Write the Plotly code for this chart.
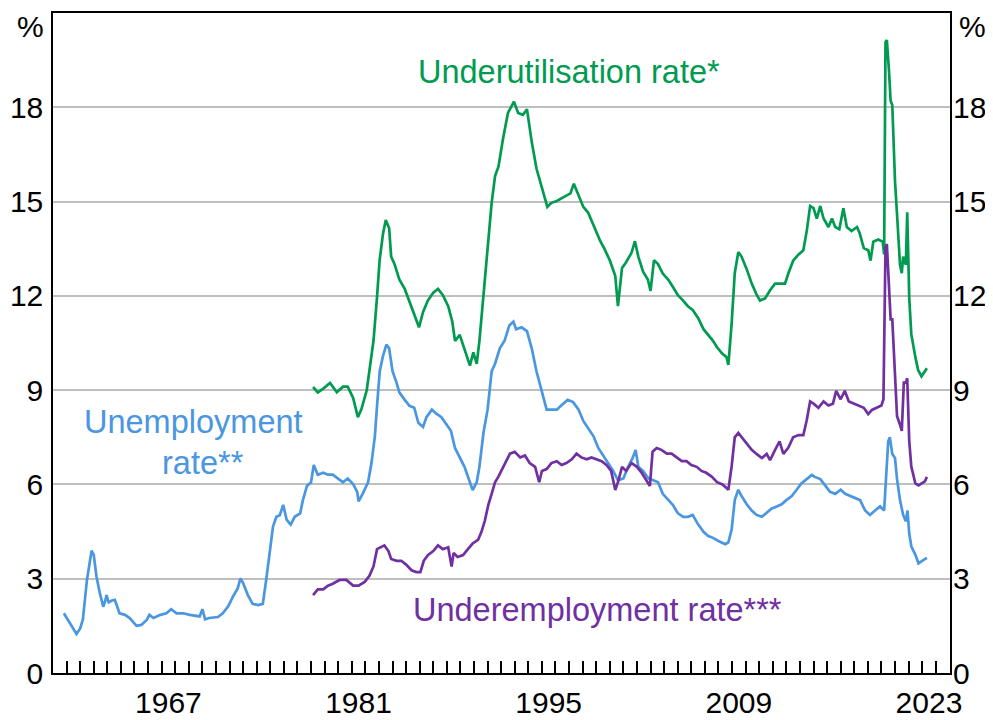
"""Labour market slack: unemployment, underemployment and underutilisation rates."""

import plotly.graph_objects as go

# ── Theme ───────────────────────────────────────────────────────────────────
_FONT = "Liberation Sans, Arial, sans-serif"
_GREEN = "#009B50"
_BLUE = "#4A96E0"
_PURPLE = "#7030A0"
_GRID = "#BFBFBF"
_INK = "#000000"

# ── Data (decimal years, per cent) ──────────────────────────────────────────
unemp_year = [
    1959.8, 1960.73, 1961.0, 1961.2, 1961.5, 1961.84, 1962.0, 1962.2, 1962.45, 1962.7,
    1962.85, 1962.94, 1963.1, 1963.3, 1963.55, 1963.9, 1964.3, 1964.65, 1965.15, 1965.5,
    1965.9, 1966.1, 1966.4, 1966.9, 1967.35, 1967.7, 1968.1, 1968.6, 1969.07, 1969.8,
    1970.0, 1970.2, 1970.5, 1971.15, 1971.5, 1971.9, 1972.25, 1972.6, 1972.8, 1973.0,
    1973.35, 1973.7, 1974.1, 1974.45, 1974.7, 1974.95, 1975.2, 1975.45, 1975.7, 1975.95,
    1976.2, 1976.5, 1976.8, 1977.2, 1977.4, 1977.7, 1978.0, 1978.2, 1978.5, 1978.9,
    1979.25, 1979.6, 1980.0, 1980.35, 1980.7, 1981.1, 1981.4, 1981.5, 1981.8, 1982.2,
    1982.45, 1982.7, 1982.86, 1983.06, 1983.3, 1983.55, 1983.75, 1984.0, 1984.3, 1984.5,
    1984.9, 1985.25, 1985.6, 1985.9, 1986.25, 1986.5, 1986.9, 1987.2, 1987.6, 1988.0,
    1988.3, 1988.6, 1988.95, 1989.3, 1989.7, 1989.9, 1990.2, 1990.4, 1990.7, 1991.0,
    1991.3, 1991.55, 1991.9, 1992.25, 1992.6, 1992.9, 1993.1, 1993.5, 1993.9, 1994.25,
    1994.6, 1995.0, 1995.35, 1995.7, 1996.1, 1996.4, 1996.9, 1997.3, 1997.7, 1998.05,
    1998.4, 1998.8, 1999.15, 1999.5, 1999.9, 2000.25, 2000.6, 2001.0, 2001.35, 2001.7,
    2001.9, 2002.1, 2002.45, 2002.85, 2003.2, 2003.55, 2003.9, 2004.3, 2004.65, 2005.0,
    2005.4, 2005.75, 2006.1, 2006.5, 2006.9, 2007.25, 2007.6, 2008.0, 2008.5, 2008.73,
    2008.97, 2009.2, 2009.46, 2009.7, 2010.08, 2010.45, 2010.8, 2011.2, 2011.55, 2011.9,
    2012.3, 2012.65, 2013.0, 2013.4, 2013.76, 2014.1, 2014.5, 2014.87, 2015.1, 2015.5,
    2015.85, 2016.2, 2016.6, 2017.0, 2017.33, 2017.7, 2018.06, 2018.43, 2018.8, 2019.16,
    2019.53, 2019.9, 2020.2, 2020.33, 2020.5, 2020.62, 2020.8, 2021.0, 2021.15, 2021.37,
    2021.6, 2021.8, 2021.92, 2022.05, 2022.2, 2022.5, 2022.73, 2022.97, 2023.2, 2023.35,
]
unemp_rate = [
    1.90, 1.24, 1.42, 1.70, 2.96, 3.89, 3.76, 3.07, 2.54, 2.11,
    2.30, 2.48, 2.25, 2.30, 2.33, 1.90, 1.85, 1.75, 1.50, 1.53,
    1.69, 1.85, 1.75, 1.85, 1.90, 2.03, 1.90, 1.90, 1.85, 1.80,
    2.03, 1.71, 1.75, 1.78, 1.90, 2.12, 2.43, 2.69, 3.01, 2.86,
    2.48, 2.20, 2.16, 2.20, 2.97, 3.91, 4.66, 4.97, 5.02, 5.35,
    4.88, 4.72, 4.97, 5.08, 5.50, 5.95, 6.07, 6.62, 6.31, 6.37,
    6.31, 6.31, 6.19, 6.07, 6.19, 6.01, 5.76, 5.46, 5.70, 6.07,
    6.68, 7.53, 8.50, 9.60, 10.09, 10.45, 10.33, 9.60, 9.23, 8.93,
    8.69, 8.50, 8.44, 7.96, 7.83, 8.14, 8.38, 8.26, 8.14, 7.89,
    7.71, 7.16, 6.86, 6.56, 6.07, 5.82, 6.07, 6.56, 7.65, 8.38,
    9.60, 9.84, 10.33, 10.57, 11.06, 11.18, 10.94, 11.00, 10.88, 10.33,
    9.60, 8.99, 8.38, 8.38, 8.38, 8.50, 8.69, 8.62, 8.38, 8.02,
    7.77, 7.53, 7.16, 6.92, 6.68, 6.43, 6.13, 6.19, 6.56, 6.86,
    7.10, 6.56, 6.43, 6.19, 6.13, 6.07, 5.70, 5.52, 5.34, 5.09,
    4.97, 4.97, 5.03, 4.73, 4.49, 4.36, 4.30, 4.20, 4.10, 4.16,
    4.56, 5.50, 5.83, 5.63, 5.37, 5.17, 5.03, 4.97, 5.10, 5.23,
    5.30, 5.37, 5.50, 5.63, 5.83, 6.03, 6.17, 6.30, 6.24, 6.17,
    5.97, 5.77, 5.70, 5.83, 5.70, 5.63, 5.57, 5.50, 5.17, 5.03,
    5.17, 5.30, 5.17, 6.03, 7.37, 7.50, 6.97, 6.84, 6.17, 5.50,
    5.03, 4.83, 5.17, 4.43, 4.03, 3.76, 3.49, 3.56, 3.63, 3.66,
]

underutil_year = [
    1978.15, 1978.5, 1978.9, 1979.4, 1979.9, 1980.35, 1980.7, 1981.1, 1981.45, 1981.7,
    1982.1, 1982.3, 1982.6, 1982.85, 1983.05, 1983.3, 1983.5, 1983.75, 1983.9, 1984.15,
    1984.5, 1984.9, 1985.25, 1985.6, 1985.95, 1986.25, 1986.6, 1987.0, 1987.35, 1987.7,
    1988.1, 1988.4, 1988.6, 1988.95, 1989.2, 1989.45, 1989.7, 1989.95, 1990.2, 1990.4,
    1990.7, 1991.0, 1991.3, 1991.55, 1991.8, 1992.15, 1992.5, 1992.94, 1993.25, 1993.6,
    1993.9, 1994.25, 1994.6, 1995.0, 1995.4, 1995.7, 1996.1, 1996.6, 1997.1, 1997.35,
    1997.7, 1998.05, 1998.4, 1998.8, 1999.3, 1999.6, 2000.0, 2000.4, 2000.6, 2000.9,
    2001.2, 2001.6, 2001.85, 2002.1, 2002.45, 2002.8, 2003.0, 2003.25, 2003.55, 2003.9,
    2004.3, 2004.65, 2005.0, 2005.4, 2005.75, 2006.1, 2006.5, 2006.9, 2007.25, 2007.6,
    2007.87, 2008.24, 2008.6, 2008.73, 2008.97, 2009.2, 2009.46, 2009.7, 2010.08, 2010.45,
    2010.8, 2011.06, 2011.43, 2011.8, 2012.17, 2012.5, 2012.9, 2013.15, 2013.5, 2013.9,
    2014.25, 2014.5, 2014.75, 2015.0, 2015.24, 2015.5, 2015.74, 2016.1, 2016.36, 2016.6,
    2016.9, 2017.2, 2017.45, 2017.8, 2018.2, 2018.4, 2018.7, 2019.03, 2019.2, 2019.4,
    2019.77, 2020.1, 2020.2, 2020.3, 2020.4, 2020.56, 2020.68, 2020.8, 2021.0, 2021.15,
    2021.37, 2021.5, 2021.6, 2021.8, 2021.9, 2022.05, 2022.2, 2022.5, 2022.7, 2022.95,
    2023.2, 2023.35,
]
underutil_rate = [
    9.10, 8.93, 9.05, 9.23, 8.93, 9.11, 9.11, 8.75, 8.14, 8.38,
    8.99, 9.60, 10.57, 11.91, 13.13, 13.98, 14.41, 14.16, 13.25, 13.01,
    12.52, 12.22, 11.79, 11.43, 11.00, 11.49, 11.85, 12.10, 12.22, 12.03,
    11.67, 11.18, 10.57, 10.76, 10.45, 10.09, 9.78, 10.20, 9.84, 10.57,
    12.03, 13.37, 14.96, 15.81, 16.11, 17.03, 17.82, 18.18, 17.82, 17.76,
    17.94, 16.90, 16.05, 15.44, 14.83, 14.96, 15.02, 15.14, 15.26, 15.57,
    15.20, 14.83, 14.65, 14.23, 13.74, 13.50, 13.13, 12.64, 11.67, 12.89,
    13.07, 13.37, 13.74, 13.25, 12.77, 12.52, 12.16, 13.13, 13.01, 12.71,
    12.52, 12.28, 12.03, 11.85, 11.67, 11.55, 11.30, 10.94, 10.76, 10.57,
    10.38, 10.18, 10.05, 9.80, 11.11, 12.72, 13.39, 13.25, 12.85, 12.39,
    12.05, 11.85, 11.92, 12.18, 12.39, 12.39, 12.39, 12.72, 13.12, 13.32,
    13.45, 14.06, 14.86, 14.79, 14.46, 14.86, 14.46, 14.19, 14.46, 14.19,
    14.12, 14.79, 14.19, 14.06, 14.19, 13.99, 13.52, 13.45, 13.12, 13.72,
    13.79, 13.72, 13.32, 20.07, 20.14, 19.14, 18.20, 18.07, 15.66, 14.59,
    12.99, 12.72, 13.25, 12.99, 14.66, 11.92, 10.78, 10.05, 9.64, 9.44,
    9.58, 9.70,
]

underemp_year = [
    1978.15, 1978.5, 1978.9, 1979.25, 1979.6, 1980.1, 1980.6, 1981.1, 1981.5, 1981.95,
    1982.3, 1982.6, 1982.86, 1983.2, 1983.4, 1983.7, 1983.9, 1984.3, 1984.65, 1985.0,
    1985.4, 1985.75, 1986.05, 1986.3, 1986.6, 1987.0, 1987.35, 1987.7, 1988.1, 1988.35,
    1988.5, 1988.8, 1989.2, 1989.55, 1989.9, 1990.3, 1990.55, 1990.8, 1991.05, 1991.3,
    1991.55, 1991.8, 1992.15, 1992.4, 1992.65, 1993.0, 1993.4, 1993.75, 1994.1, 1994.5,
    1994.8, 1995.0, 1995.35, 1995.7, 1996.1, 1996.45, 1996.8, 1997.2, 1997.55, 1997.9,
    1998.3, 1998.65, 1999.0, 1999.4, 1999.75, 2000.1, 2000.4, 2000.6, 2000.9, 2001.2,
    2001.6, 2002.0, 2002.35, 2002.7, 2002.95, 2003.15, 2003.45, 2003.8, 2004.2, 2004.55,
    2004.9, 2005.3, 2005.65, 2006.0, 2006.4, 2006.75, 2007.1, 2007.5, 2007.9, 2008.3,
    2008.55, 2008.73, 2008.97, 2009.2, 2009.46, 2009.7, 2010.08, 2010.45, 2010.8, 2011.2,
    2011.55, 2011.8, 2012.17, 2012.5, 2012.78, 2013.15, 2013.5, 2013.9, 2014.25, 2014.5,
    2014.75, 2015.0, 2015.36, 2015.74, 2016.1, 2016.43, 2016.67, 2017.0, 2017.3, 2017.6,
    2018.0, 2018.3, 2018.7, 2019.03, 2019.3, 2019.65, 2020.0, 2020.15, 2020.3, 2020.4,
    2020.56, 2020.68, 2020.8, 2021.0, 2021.15, 2021.37, 2021.5, 2021.65, 2021.8, 2021.9,
    2022.05, 2022.2, 2022.5, 2022.73, 2022.97, 2023.2, 2023.35,
]
underemp_rate = [
    2.48, 2.66, 2.66, 2.78, 2.84, 2.96, 2.96, 2.78, 2.78, 2.90,
    3.09, 3.39, 3.94, 4.00, 4.06, 3.88, 3.63, 3.57, 3.57, 3.45,
    3.27, 3.21, 3.21, 3.57, 3.75, 3.88, 4.06, 3.94, 4.00, 3.39,
    3.82, 3.69, 3.75, 3.94, 4.12, 4.24, 4.49, 4.85, 5.34, 5.70,
    6.07, 6.25, 6.56, 6.80, 6.98, 7.04, 6.86, 6.92, 6.68, 6.56,
    6.07, 6.43, 6.49, 6.68, 6.74, 6.62, 6.68, 6.80, 6.98, 6.86,
    6.80, 6.86, 6.80, 6.74, 6.62, 6.43, 5.82, 6.07, 6.56, 6.43,
    6.68, 6.56, 6.37, 6.13, 5.95, 7.04, 7.16, 7.10, 6.98, 6.98,
    6.86, 6.74, 6.74, 6.62, 6.56, 6.43, 6.37, 6.25, 6.07, 6.00,
    5.90, 5.83, 6.57, 7.50, 7.64, 7.50, 7.30, 7.10, 6.97, 6.84,
    6.97, 6.77, 7.10, 7.37, 6.97, 7.17, 7.50, 7.57, 7.57, 8.04,
    8.64, 8.57, 8.44, 8.64, 8.51, 8.57, 8.98, 8.71, 8.98, 8.64,
    8.57, 8.51, 8.44, 8.24, 8.37, 8.44, 8.51, 8.71, 13.52, 13.65,
    12.05, 11.25, 11.25, 9.24, 8.17, 7.90, 7.70, 9.24, 9.24, 9.38,
    7.37, 6.57, 6.03, 5.97, 6.03, 6.10, 6.24,
]

# ── Axes ────────────────────────────────────────────────────────────────────
x_range = [1959.0, 2025.05]
y_range = [0, 21]
y_ticks = [0, 3, 6, 9, 12, 15, 18]
year_ticks = list(range(1960, 2025))
year_labels = ["1967", "1981", "1995", "2009", "2023"]
year_label_pos = [int(s) + 0.5 for s in year_labels]


def build_figure() -> go.Figure:
    fig = go.Figure()

    series = [
        (underutil_year, underutil_rate, _GREEN, "Underutilisation rate"),
        (unemp_year, unemp_rate, _BLUE, "Unemployment rate"),
        (underemp_year, underemp_rate, _PURPLE, "Underemployment rate"),
    ]
    for xs, ys, color, name in series:
        fig.add_trace(
            go.Scatter(
                x=xs, y=ys, mode="lines", name=name,
                line=dict(color=color, width=2.7),
                showlegend=False,
            )
        )

    # empty helpers so the secondary axes get drawn
    fig.add_trace(go.Scatter(x=[], y=[], yaxis="y2", showlegend=False))
    fig.add_trace(go.Scatter(x=[], y=[], xaxis="x2", showlegend=False))

    axis_font = dict(family=_FONT, size=30, color=_INK)

    # page body has an 8px margin, so the figure is 8px smaller each way
    fig.update_layout(
        template="none",
        width=985,
        height=712,
        margin=dict(l=45, r=43, t=5, b=47),
        paper_bgcolor="white",
        plot_bgcolor="white",
        font=dict(family=_FONT, color=_INK),
        xaxis=dict(
            range=x_range,
            tickmode="array",
            tickvals=year_ticks,
            showticklabels=False,
            ticks="inside",
            ticklen=12,
            tickwidth=1.5,
            tickcolor=_INK,
            showgrid=False,
            zeroline=False,
            showline=True,
            linecolor=_INK,
            linewidth=1.5,
            mirror=True,
            automargin=False,
        ),
        xaxis2=dict(
            range=x_range,
            overlaying="x",
            side="bottom",
            tickmode="array",
            tickvals=year_label_pos,
            ticktext=year_labels,
            ticks="",
            tickfont=axis_font,
            ticklabelstandoff=9,
            showgrid=False,
            zeroline=False,
            showline=False,
            automargin=False,
        ),
        yaxis=dict(
            range=y_range,
            tickmode="array",
            tickvals=y_ticks,
            ticks="",
            tickfont=axis_font,
            ticklabelstandoff=2,
            showgrid=True,
            gridcolor=_GRID,
            gridwidth=1.5,
            zeroline=False,
            showline=True,
            linecolor=_INK,
            linewidth=1.5,
            mirror=True,
            automargin=False,
        ),
        yaxis2=dict(
            range=y_range,
            overlaying="y",
            side="right",
            tickmode="array",
            tickvals=y_ticks,
            ticks="",
            tickfont=axis_font,
            ticklabelstandoff=2,
            showgrid=False,
            zeroline=False,
            showline=False,
            automargin=False,
        ),
    )

    labels = [
        ("Underutilisation rate*", 1997.0, 19.12, _GREEN),
        ("Unemployment", 1969.33, 7.98, _BLUE),
        ("rate**", 1970.06, 6.68, _BLUE),
        ("Underemployment rate***", 1999.1, 2.02, _PURPLE),
    ]
    for text, x, y, color in labels:
        fig.add_annotation(
            x=x, y=y, xref="x", yref="y", text=text, showarrow=False,
            font=dict(family=_FONT, size=32.5, color=color),
            xanchor="center", yanchor="middle", align="center",
        )

    for xpos, anchor in [(-0.008, "right"), (1.008, "left")]:
        fig.add_annotation(
            x=xpos, y=0.98, xref="paper", yref="paper", text="%",
            showarrow=False, font=axis_font, xanchor=anchor, yanchor="middle",
        )

    return fig


fig = build_figure()
fig.write_html("out.html")
